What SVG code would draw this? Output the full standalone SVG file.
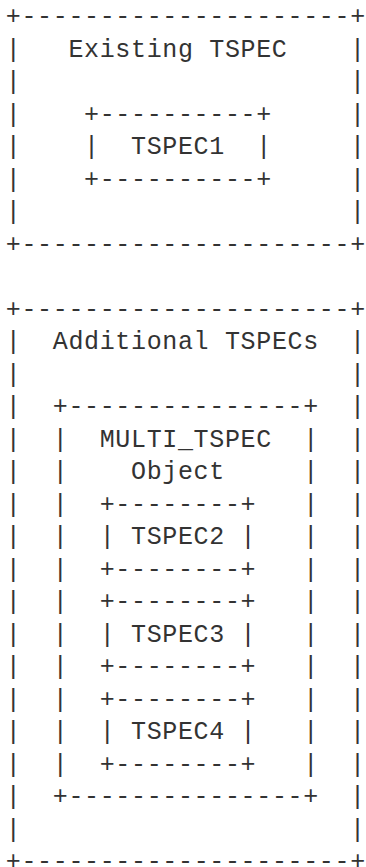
<svg xmlns="http://www.w3.org/2000/svg" width="366" height="867" viewBox="0 0 366 867">
<style>
text { font-family: "Liberation Mono", "DejaVu Sans Mono", monospace; font-size: 25px; letter-spacing: 0.65px; fill: #333333; }
</style>
<rect width="366" height="867" fill="#ffffff"/>
<g id="existing-tspec">
<text x="5.8" y="24.4">+---------------------+</text>
<text x="5.8" y="56.9">|</text><text x="350.1" y="56.9">|</text>
<text x="5.8" y="89.4">|</text><text x="350.1" y="89.4">|</text>
<text x="5.8" y="121.9">|</text><text x="350.1" y="121.9">|</text>
<text x="5.8" y="154.4">|</text><text x="350.1" y="154.4">|</text>
<text x="5.8" y="186.9">|</text><text x="350.1" y="186.9">|</text>
<text x="5.8" y="219.4">|</text><text x="350.1" y="219.4">|</text>
<text x="5.8" y="251.9">+---------------------+</text>
<text x="68.4" y="56.9">Existing TSPEC</text>
</g>
<g id="tspec1">
<text x="84.05" y="121.9">+----------+</text>
<text x="84.05" y="154.4">|</text><text x="256.2" y="154.4">|</text>
<text x="84.05" y="186.9">+----------+</text>
<text x="131" y="154.4">TSPEC1</text>
</g>
<g id="additional-tspecs">
<text x="5.8" y="316.9">+---------------------+</text>
<text x="5.8" y="349.4">|</text><text x="350.1" y="349.4">|</text>
<text x="5.8" y="381.9">|</text><text x="350.1" y="381.9">|</text>
<text x="5.8" y="414.4">|</text><text x="350.1" y="414.4">|</text>
<text x="5.8" y="446.9">|</text><text x="350.1" y="446.9">|</text>
<text x="5.8" y="479.4">|</text><text x="350.1" y="479.4">|</text>
<text x="5.8" y="511.9">|</text><text x="350.1" y="511.9">|</text>
<text x="5.8" y="544.4">|</text><text x="350.1" y="544.4">|</text>
<text x="5.8" y="576.9">|</text><text x="350.1" y="576.9">|</text>
<text x="5.8" y="609.4">|</text><text x="350.1" y="609.4">|</text>
<text x="5.8" y="641.9">|</text><text x="350.1" y="641.9">|</text>
<text x="5.8" y="674.4">|</text><text x="350.1" y="674.4">|</text>
<text x="5.8" y="706.9">|</text><text x="350.1" y="706.9">|</text>
<text x="5.8" y="739.4">|</text><text x="350.1" y="739.4">|</text>
<text x="5.8" y="771.9">|</text><text x="350.1" y="771.9">|</text>
<text x="5.8" y="804.4">|</text><text x="350.1" y="804.4">|</text>
<text x="5.8" y="836.9">|</text><text x="350.1" y="836.9">|</text>
<text x="5.8" y="869.2">+---------------------+</text>
<text x="52.75" y="349.4">Additional TSPECs</text>
</g>
<g id="multi-tspec">
<text x="52.75" y="414.4">+---------------+</text>
<text x="52.75" y="446.9">|</text><text x="303.15" y="446.9">|</text>
<text x="52.75" y="479.4">|</text><text x="303.15" y="479.4">|</text>
<text x="52.75" y="511.9">|</text><text x="303.15" y="511.9">|</text>
<text x="52.75" y="544.4">|</text><text x="303.15" y="544.4">|</text>
<text x="52.75" y="576.9">|</text><text x="303.15" y="576.9">|</text>
<text x="52.75" y="609.4">|</text><text x="303.15" y="609.4">|</text>
<text x="52.75" y="641.9">|</text><text x="303.15" y="641.9">|</text>
<text x="52.75" y="674.4">|</text><text x="303.15" y="674.4">|</text>
<text x="52.75" y="706.9">|</text><text x="303.15" y="706.9">|</text>
<text x="52.75" y="739.4">|</text><text x="303.15" y="739.4">|</text>
<text x="52.75" y="771.9">|</text><text x="303.15" y="771.9">|</text>
<text x="52.75" y="804.4">+---------------+</text>
<text x="99.7" y="446.9">MULTI_TSPEC</text>
<text x="131" y="479.4">Object</text>
</g>
<g id="tspec2">
<text x="99.7" y="511.9">+--------+</text>
<text x="99.7" y="544.4">|</text><text x="240.55" y="544.4">|</text>
<text x="99.7" y="576.9">+--------+</text>
<text x="131" y="544.4">TSPEC2</text>
</g>
<g id="tspec3">
<text x="99.7" y="609.4">+--------+</text>
<text x="99.7" y="641.9">|</text><text x="240.55" y="641.9">|</text>
<text x="99.7" y="674.4">+--------+</text>
<text x="131" y="641.9">TSPEC3</text>
</g>
<g id="tspec4">
<text x="99.7" y="706.9">+--------+</text>
<text x="99.7" y="739.4">|</text><text x="240.55" y="739.4">|</text>
<text x="99.7" y="771.9">+--------+</text>
<text x="131" y="739.4">TSPEC4</text>
</g>
<g id="connectors"/>
</svg>
